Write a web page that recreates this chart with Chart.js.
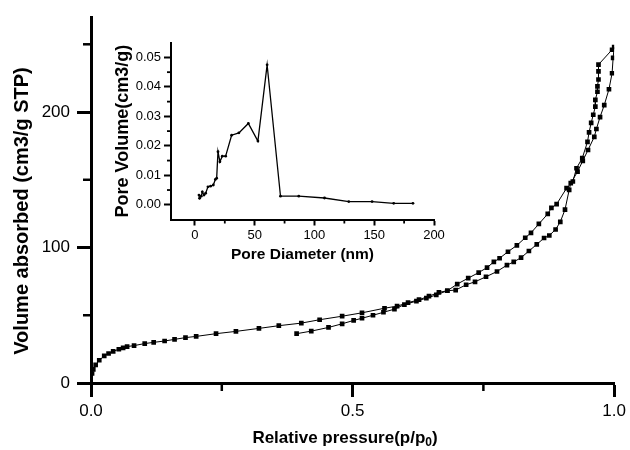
<!DOCTYPE html>
<html><head><meta charset="utf-8">
<script src="https://cdn.jsdelivr.net/npm/chart.js@4.4.1/dist/chart.umd.min.js"></script>
<style>
html,body{margin:0;padding:0;background:#fff;}
#wrap{position:relative;width:630px;height:450px;background:#fff;}
#wrap canvas{position:absolute;left:0;top:0;}
</style></head><body>
<div id="wrap"><canvas id="main" width="630" height="450"></canvas><canvas id="inset" width="630" height="450"></canvas></div>
<script>
// ---------- data ----------
const adsP = [0.002,0.0044,0.0089,0.0158,0.0253,0.0336,0.0424,0.0532,0.0614,0.069,0.0823,0.1027,0.1198,0.1407,0.1597,0.1806,0.201,0.239,0.277,0.321,0.359,0.402,0.437,0.480,0.518,0.561,0.585,0.606,0.627,0.646,0.665,0.681,0.697,0.717,0.734,0.755,0.776,0.795,0.808,0.822,0.837,0.852,0.866,0.876,0.888,0.897,0.906,0.914,0.917,0.930,0.940,0.950,0.962,0.966,0.973,0.981,0.990,0.996,0.998,1.0];
const adsV = [7,10.0,13.4,16.8,20.0,21.8,23.4,24.9,25.9,26.9,27.6,29.1,30.0,31.0,32.2,33.5,34.4,36.4,38.1,40.3,42.3,44.2,46.7,49.3,51.8,55.2,56.7,59.3,61.5,64.1,66.9,68.1,68.6,72.5,74.7,78.4,82.3,87.0,89.4,92.5,97.4,102.3,107.0,108.9,113.3,118.9,128,142.6,147.5,156,164,172,181.7,187.5,196.3,205.1,216.8,228.6,240,248];
const desP = [0.996,0.970,0.970,0.970,0.968,0.968,0.964,0.964,0.960,0.956,0.952,0.949,0.939,0.928,0.921,0.909,0.890,0.880,0.873,0.856,0.841,0.830,0.814,0.797,0.781,0.770,0.757,0.741,0.721,0.700,0.681,0.660,0.641,0.622,0.599,0.580,0.559,0.539,0.518,0.502,0.480,0.454,0.421,0.393];
const desV = [246,235,230,224,219,215,209,204,198,192,185,178,166,158.5,148.7,143.8,132,129.2,124.8,117.4,110.8,107.2,101.6,96.9,92.1,89.4,85.2,81.5,77.4,73.0,68.1,65.0,62.6,60.4,57.9,54.5,52.2,50.0,47.8,46.2,43.7,41.0,38.3,36.4];

const poreD = [3.4,3.9,5.3,6.2,7.6,9.0,10.9,13.1,15.4,17.1,18.2,19.3,20.9,22.9,25.7,30.7,36.8,44.7,52.7,60.4,71.6,86.9,108.4,128.7,148.2,166.3,182.4];
const poreV = [0.0033,0.0022,0.0029,0.0044,0.0033,0.0039,0.0061,0.0063,0.0067,0.0086,0.009,0.018,0.0146,0.0165,0.0165,0.0236,0.0244,0.0276,0.0216,0.0475,0.0029,0.0029,0.0023,0.0011,0.0011,0.0005,0.0005];

const mainXMajor = [0, 0.5, 1.0];
const mainYMajor = [0, 100, 200];
const mainXMinor = [0.25, 0.75];
const mainYMinor = [50, 150, 250];
const insetXMajor = [0, 50, 100, 150, 200];
const insetYMajor = [0, 0.01, 0.02, 0.03, 0.04, 0.05];
const insetXMinor = [25, 75, 125, 175];
const insetYMinor = [0.005, 0.015, 0.025, 0.035, 0.045];

const mainYTitle = 'Volume absorbed (cm3/g STP)';
const mainXTitle = 'Relative pressure(p/p';
const mainXTitleSub = '0';
const insetXTitle = 'Pore Diameter (nm)';
const insetYTitle = 'Pore Volume(cm3/g)';

// ---------- helpers ----------
const FF = '"Liberation Sans", Arial, Helvetica, sans-serif';
const pts = (xs, ys) => xs.map((x, i) => ({x, y: ys[i]}));
const setTicks = arr => s => { s.ticks = arr.map(v => ({value: v})); };

const minorTicks = {
  id: 'minorTicks',
  afterDraw(chart, args, opts) {
    const ctx = chart.ctx;
    ctx.save();
    ctx.strokeStyle = '#000';
    ctx.lineWidth = opts.width;
    for (const id of Object.keys(opts.ticks)) {
      const s = chart.scales[id];
      for (const v of opts.ticks[id]) {
        const p = s.getPixelForValue(v);
        ctx.beginPath();
        if (s.isHorizontal()) { ctx.moveTo(p, chart.chartArea.bottom); ctx.lineTo(p, chart.chartArea.bottom + opts.len); }
        else { ctx.moveTo(chart.chartArea.left, p); ctx.lineTo(chart.chartArea.left - opts.len, p); }
        ctx.stroke();
      }
    }
    ctx.restore();
  }
};

const mainTitles = {
  id: 'mainTitles',
  afterDraw(chart) {
    const {ctx, chartArea: a} = chart;
    ctx.save();
    ctx.fillStyle = '#000';
    ctx.textBaseline = 'middle';
    ctx.save();
    ctx.font = 'bold 20px ' + FF;
    ctx.translate(a.left - 69, a.bottom - 172);
    ctx.rotate(-Math.PI / 2);
    ctx.textAlign = 'center';
    ctx.fillText(mainYTitle, 0, 0);
    ctx.restore();
    ctx.font = 'bold 17px ' + FF;
    const w1 = ctx.measureText(mainXTitle).width;
    ctx.font = 'bold 12px ' + FF;
    const w2 = ctx.measureText(mainXTitleSub).width;
    ctx.font = 'bold 17px ' + FF;
    const w3 = ctx.measureText(')').width;
    const cx = a.left + 254, cy = a.bottom + 55;
    let x = cx - (w1 + w2 + w3) / 2;
    ctx.textAlign = 'left';
    ctx.fillText(mainXTitle, x, cy);
    x += w1;
    ctx.font = 'bold 12px ' + FF;
    ctx.fillText(mainXTitleSub, x, cy + 5);
    x += w2;
    ctx.font = 'bold 17px ' + FF;
    ctx.fillText(')', x, cy);
    ctx.restore();
  }
};

// ---------- main chart ----------
new Chart(document.getElementById('main'), {
  type: 'scatter',
  data: {
    datasets: [
      {data: pts(adsP, adsV), showLine: true, borderColor: '#000', borderWidth: 1,
       pointStyle: 'rect', pointRadius: 3.3, pointBackgroundColor: '#000', pointBorderColor: '#000', pointBorderWidth: 0},
      {data: pts(desP, desV), showLine: true, borderColor: '#000', borderWidth: 1,
       pointStyle: 'rect', pointRadius: 3.3, pointBackgroundColor: '#000', pointBorderColor: '#000', pointBorderWidth: 0}
    ]
  },
  options: {
    responsive: false, animation: false,
    layout: {padding: {left: 0, top: 13, right: 13, bottom: 0}},
    plugins: {legend: {display: false}, tooltip: {enabled: false},
      minorTicks: {ticks: {x: mainXMinor, y: mainYMinor}, len: 8, width: 2.5}},
    scales: {
      x: {type: 'linear', min: 0, max: 1,
        afterBuildTicks: setTicks(mainXMajor),
        afterFit: s => { s.height = 67; },
        border: {display: true, color: '#000', width: 3},
        grid: {display: true, drawOnChartArea: false, drawTicks: true, tickLength: 14, tickWidth: 3, tickColor: '#000'},
        ticks: {maxRotation: 0, autoSkip: false, padding: 4, color: '#000',
          font: {family: FF, size: 17}, callback: v => Number(v).toFixed(1)}},
      y: {type: 'linear', min: 0, max: 270,
        afterBuildTicks: setTicks(mainYMajor),
        afterFit: s => { s.width = 91; },
        border: {display: true, color: '#000', width: 3},
        grid: {display: true, drawOnChartArea: false, drawTicks: true, tickLength: 14, tickWidth: 3, tickColor: '#000'},
        ticks: {padding: 7, color: '#000', autoSkip: false,
          font: {family: FF, size: 17}, callback: v => String(v)}}
    }
  },
  plugins: [minorTicks, mainTitles]
});

// ---------- inset chart ----------
new Chart(document.getElementById('inset'), {
  type: 'scatter',
  data: {
    datasets: [
      {data: pts(poreD, poreV), showLine: true, borderColor: '#000', borderWidth: 1.3,
       pointStyle: 'circle', pointRadius: 1.4, pointBackgroundColor: '#000', pointBorderColor: '#000', pointBorderWidth: 0}
    ]
  },
  options: {
    responsive: false, animation: false,
    layout: {padding: {left: 100, top: 42.7, right: 196, bottom: 180}},
    plugins: {legend: {display: false}, tooltip: {enabled: false},
      minorTicks: {ticks: {x: insetXMinor, y: insetYMinor}, len: 4, width: 1.8}},
    scales: {
      x: {type: 'linear', min: -20, max: 200,
        afterBuildTicks: setTicks(insetXMajor),
        afterFit: s => { s.height = 50.5; },
        border: {display: true, color: '#000', width: 2},
        grid: {display: true, drawOnChartArea: false, drawTicks: true, tickLength: 6, tickWidth: 2, tickColor: '#000'},
        ticks: {maxRotation: 0, autoSkip: false, padding: 2, color: '#000',
          font: {family: FF, size: 13}, callback: v => String(v)},
        title: {display: true, text: insetXTitle, color: '#000', font: {family: FF, size: 15.5, weight: 'bold'}, padding: {top: 0, bottom: 6}}},
      y: {type: 'linear', min: -0.005, max: 0.055,
        afterBuildTicks: setTicks(insetYMajor),
        afterFit: s => { s.width = 71; },
        border: {display: true, color: '#000', width: 2},
        grid: {display: true, drawOnChartArea: false, drawTicks: true, tickLength: 7, tickWidth: 2, tickColor: '#000'},
        ticks: {padding: 3, color: '#000', autoSkip: false,
          font: {family: FF, size: 13}, callback: v => Number(v).toFixed(2)},
        title: {display: true, text: insetYTitle, color: '#000', font: {family: FF, size: 18, weight: 'bold'}, padding: {top: 12, bottom: 0}}}
    }
  },
  plugins: [minorTicks]
});
</script>
</body></html>
